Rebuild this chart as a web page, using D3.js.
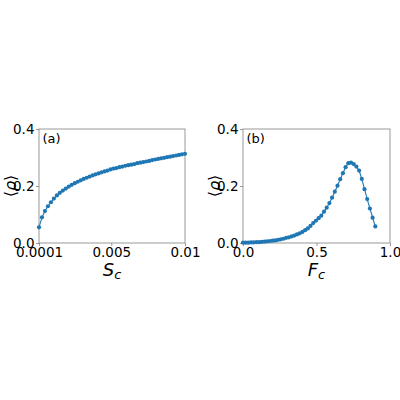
<!DOCTYPE html>
<html>
<head>
<meta charset="utf-8">
<script src="https://cdn.jsdelivr.net/npm/d3@7"></script>
<style>
  body { margin: 0; background: #fff; }
  svg { display: block; }
  text { font-family: "DejaVu Sans", sans-serif; fill: #000; }
</style>
</head>
<body>
<script>
// panel (a): <rho> against S_c
var scX = [0.0001, 0.000302, 0.000504, 0.000706, 0.000908, 0.00111, 0.001312, 0.001514, 0.001716, 0.001918,
           0.00212, 0.002322, 0.002524, 0.002727, 0.002929, 0.003131, 0.003333, 0.003535, 0.003737, 0.003939,
           0.004141, 0.004343, 0.004545, 0.004747, 0.004949, 0.005151, 0.005353, 0.005555, 0.005757, 0.005959,
           0.006161, 0.006363, 0.006565, 0.006767, 0.006969, 0.007171, 0.007373, 0.007576, 0.007778, 0.00798,
           0.008182, 0.008384, 0.008586, 0.008788, 0.00899, 0.009192, 0.009394, 0.009596, 0.009798, 0.01];
var scRho = [0.055, 0.090, 0.112, 0.129, 0.143, 0.156, 0.167, 0.176, 0.184, 0.191,
             0.198, 0.204, 0.210, 0.215, 0.220, 0.225, 0.229, 0.233, 0.237, 0.241,
             0.244, 0.248, 0.251, 0.254, 0.258, 0.261, 0.263, 0.266, 0.268, 0.271,
             0.273, 0.275, 0.277, 0.280, 0.282, 0.284, 0.286, 0.288, 0.291, 0.293,
             0.295, 0.297, 0.299, 0.301, 0.303, 0.305, 0.307, 0.309, 0.311, 0.313];

// panel (b): <rho> against F_c
var fcX = [0, 0.0184, 0.0367, 0.0551, 0.0735, 0.0918, 0.1102, 0.1286, 0.1469, 0.1653,
           0.1837, 0.2020, 0.2204, 0.2388, 0.2571, 0.2755, 0.2939, 0.3122, 0.3306, 0.3490,
           0.3673, 0.3857, 0.4041, 0.4224, 0.4408, 0.4592, 0.4776, 0.4959, 0.5143, 0.5327,
           0.5510, 0.5694, 0.5878, 0.6061, 0.6245, 0.6429, 0.6612, 0.6796, 0.6980, 0.7163,
           0.7347, 0.7531, 0.7714, 0.7898, 0.8082, 0.8265, 0.8449, 0.8633, 0.8816, 0.9];
var fcRho = [0.001, 0.001, 0.001, 0.002, 0.002, 0.003, 0.003, 0.004, 0.005, 0.006,
             0.007, 0.008, 0.009, 0.011, 0.013, 0.015, 0.018, 0.020, 0.023, 0.026,
             0.030, 0.034, 0.039, 0.045, 0.051, 0.060, 0.070, 0.078, 0.087, 0.096,
             0.110, 0.124, 0.140, 0.159, 0.180, 0.201, 0.224, 0.245, 0.266, 0.280,
             0.282, 0.277, 0.268, 0.254, 0.225, 0.189, 0.154, 0.121, 0.089, 0.058];

var yTicks = [0, 0.2, 0.4];
var yTickLabels = ["0.0", "0.2", "0.4"];
var aTicks = [0.0001, 0.005, 0.01];
var aTickLabels = ["0.0001", "0.005", "0.01"];
var bTicks = [0, 0.5, 1.0];
var bTickLabels = ["0.0", "0.5", "1.0"];

var blue = "#1f77b4";
var frame = "#808080";

var svg = d3.select("body").append("svg")
    .attr("width", 400)
    .attr("height", 400);

var drawPanel = function(p) {
  var x = d3.scaleLinear().domain(p.xDomain).range([p.left, p.right]);
  var y = d3.scaleLinear().domain([0, 0.4]).range([243, 129]);
  var g = svg.append("g");

  // x axis
  var xa = g.append("g")
      .attr("transform", "translate(0,243)")
      .call(d3.axisBottom(x).tickValues(p.xTicks)
        .tickFormat(function(d, i) { return p.xLabels[i]; })
        .tickSize(3).tickPadding(1.5));
  // y axis
  var ya = g.append("g")
      .attr("transform", "translate(" + p.left + ",0)")
      .call(d3.axisLeft(y).tickValues(yTicks)
        .tickFormat(function(d, i) { return yTickLabels[i]; })
        .tickSize(3).tickPadding(1.5));
  [xa, ya].forEach(function(a) {
    a.select(".domain").remove();
    a.selectAll("line").attr("stroke", frame).attr("stroke-width", 0.8);
    a.selectAll("text").style("font-size", "13.5px")
      .style("font-family", "'DejaVu Sans', sans-serif").attr("fill", "#000");
  });

  // frame
  g.append("rect")
      .attr("x", p.left).attr("y", 129)
      .attr("width", p.right - p.left).attr("height", 114)
      .attr("fill", "none")
      .attr("stroke", frame)
      .attr("stroke-width", 0.8);

  var pts = p.xs.map(function(v, i) { return [v, p.ys[i]]; });
  var line = d3.line()
      .x(function(d) { return x(d[0]); })
      .y(function(d) { return y(d[1]); });
  g.append("path")
      .datum(pts)
      .attr("d", line)
      .attr("fill", "none")
      .attr("stroke", blue)
      .attr("stroke-width", 1.1);
  g.selectAll(".dot")
      .data(pts)
    .enter().append("circle")
      .attr("class", "dot")
      .attr("cx", function(d) { return x(d[0]); })
      .attr("cy", function(d) { return y(d[1]); })
      .attr("r", 2.1)
      .attr("fill", blue);

  // panel tag
  g.append("text")
      .attr("x", p.left + 3.5)
      .attr("y", 142.5)
      .style("font-size", "13px")
      .text(p.tag);

  // x label with subscript
  var xl = g.append("text")
      .attr("x", (p.left + p.right) / 2)
      .attr("y", 276)
      .attr("text-anchor", "middle")
      .style("font-size", "18px")
      .style("font-style", "italic");
  xl.append("tspan").text(p.xName);
  xl.append("tspan").attr("baseline-shift", "-25%").style("font-size", "13px").text("c");

  // y label
  g.append("text")
      .attr("transform", "translate(" + (p.left - 23) + ",186) rotate(-90)")
      .attr("text-anchor", "middle")
      .style("font-size", "16px")
      .html("\u27e8<tspan font-style='italic'>\u03c1</tspan>\u27e9");
};

drawPanel({left: 39, right: 185, xDomain: [0.0001, 0.01], xTicks: aTicks, xLabels: aTickLabels,
           xs: scX, ys: scRho, tag: "(a)", xName: "S"});
drawPanel({left: 243, right: 390, xDomain: [0, 1], xTicks: bTicks, xLabels: bTickLabels,
           xs: fcX, ys: fcRho, tag: "(b)", xName: "F"});
</script>
</body>
</html>
